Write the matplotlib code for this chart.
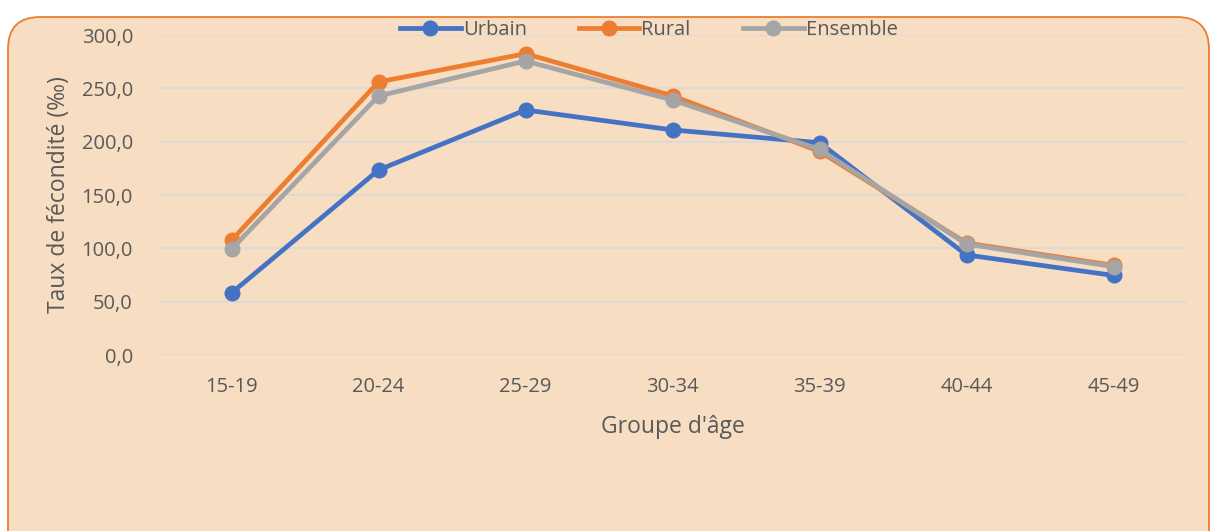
import matplotlib
matplotlib.use("Agg")
import matplotlib.pyplot as plt
from matplotlib.patches import FancyBboxPatch
from matplotlib.ticker import FuncFormatter

groupes = ["15-19", "20-24", "25-29", "30-34", "35-39", "40-44", "45-49"]
urbain = [58.1, 173.4, 229.7, 211.0, 199.0, 93.8, 74.6]
rural = [107.5, 256.0, 282.5, 243.0, 190.9, 105.0, 84.0]
ensemble = [99.2, 242.8, 275.6, 239.0, 192.8, 104.0, 82.8]

bg = "#F7DDC1"
txt = "#595959"
plt.rcParams['font.family'] = ['Open Sans', 'DejaVu Sans']

fig = plt.figure(figsize=(12.12, 5.31), dpi=100, facecolor="white")

# rounded frame of the chart area (inches, so corners stay round)
frame = FancyBboxPatch((0.08, -0.5), 12.01, 5.31 - 0.17 + 0.5,
                       boxstyle="round,pad=0,rounding_size=0.32",
                       transform=fig.dpi_scale_trans, facecolor=bg,
                       edgecolor="#ED7D31", linewidth=1.3, zorder=-1)
fig.patches.append(frame)

ax = fig.add_axes([158 / 1212, 1 - 355 / 531, 1029 / 1212, 320 / 531])
ax.set_facecolor("none")

x = range(len(groupes))
ax.plot(x, urbain, color="#4472C4", lw=3.4, marker="o", ms=10.5, label="Urbain", zorder=3)
ax.plot(x, rural, color="#ED7D31", lw=3.4, marker="o", ms=10.5, label="Rural", zorder=4)
ax.plot(x, ensemble, color="#A5A5A5", lw=3.4, marker="o", ms=10.5, label="Ensemble", zorder=5)

ax.set_xlim(-0.5, len(groupes) - 0.5)
ax.set_ylim(0, 300)
ax.set_yticks(range(0, 301, 50))
ax.yaxis.set_major_formatter(FuncFormatter(lambda v, p: f"{v:.1f}".replace(".", ",")))
ax.set_xticks(list(x))
ax.set_xticklabels(groupes)
ax.grid(axis="y", color="#D9D9D9", lw=1.2)
ax.set_axisbelow(True)
for s in ax.spines.values():
    s.set_visible(False)
ax.tick_params(length=0, labelsize=14.5, colors=txt)
ax.tick_params(axis="x", pad=16)
ax.tick_params(axis="y", pad=18)

ax.set_xlabel("Groupe d'âge", fontsize=16.5, color=txt, labelpad=13)
ax.set_ylabel("Taux de fécondité (‰)", fontsize=16.5, color=txt, labelpad=8)

leg = ax.legend(loc="center", bbox_to_anchor=(0.477, 1.017), ncol=3, frameon=False,
                fontsize=14.5, handlelength=3.0, handletextpad=0.1, columnspacing=2.6,
                labelcolor=txt)

fig.savefig("out.png", dpi=100, facecolor="white")
